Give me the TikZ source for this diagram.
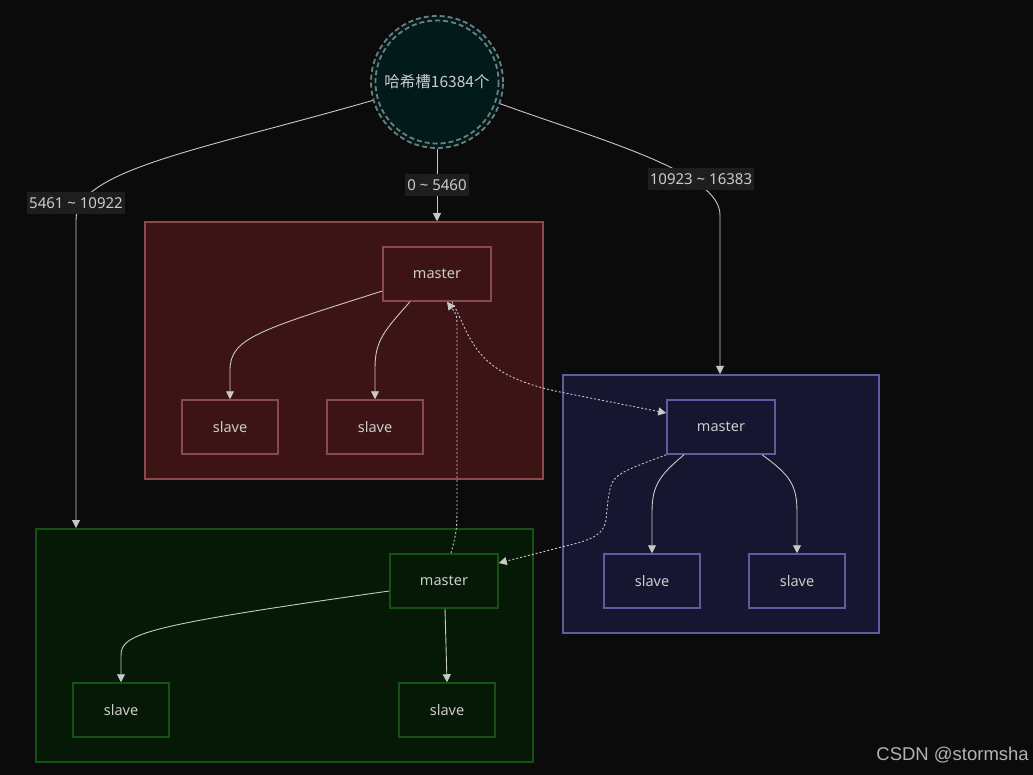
\documentclass[tikz,border=0pt]{standalone}
\usepackage{fontspec}
\setmainfont{Noto Sans}
\newfontfamily\cjk{Noto Sans CJK SC}
\newfontfamily\wmfont{Liberation Sans}
\usetikzlibrary{arrows.meta}
\definecolor{bg}{HTML}{0B0B0B}
\definecolor{txt}{HTML}{CCCCCC}
\definecolor{edgec}{HTML}{C8C8C8}
\definecolor{lblbg}{HTML}{1E1E1E}
\definecolor{redfill}{HTML}{3C1416}
\definecolor{redline}{HTML}{8A4A4A}
\definecolor{purfill}{HTML}{161630}
\definecolor{purline}{HTML}{5C5C9E}
\definecolor{grnfill}{HTML}{061806}
\definecolor{grnline}{HTML}{145214}
\definecolor{hashfill}{HTML}{031A1A}
\definecolor{hashline}{HTML}{6F7F7F}
\definecolor{wmcol}{HTML}{B3B3B3}
\tikzset{
  cluster/.style={draw, line width=1.5pt, inner sep=0pt},
  box/.style={draw, line width=1.5pt, minimum height=54pt, text=txt, font=\fontsize{14.5}{16}\selectfont},
  mbox/.style={box, minimum width=108pt},
  sbox/.style={box, minimum width=96pt},
  edge/.style={draw=edgec, line width=0.9pt, -{Triangle[length=8pt,width=8pt]}},
  dotedge/.style={edge, dash pattern=on 2pt off 2pt},
  lbl/.style={fill=lblbg, text=txt, inner xsep=2pt, inner ysep=5pt, font=\fontsize{15}{17}\selectfont},
}
\begin{document}
\begin{tikzpicture}[x=1pt,y=-1pt]
\fill[bg] (0,0) rectangle (1033,775);
\useasboundingbox (0,0) rectangle (1033,775);

% clusters
\node[cluster, draw=redline, fill=redfill, minimum width=398pt, minimum height=257pt] (red) at (344,350.5) {};
\node[cluster, draw=purline, fill=purfill, minimum width=316pt, minimum height=258pt] (pur) at (721,504) {};
\node[cluster, draw=grnline, fill=grnfill, minimum width=497pt, minimum height=233pt] (grn) at (284.5,645.5) {};

% hash circle
\node[circle, draw=hashline, fill=hashfill, dash pattern=on 5pt off 3pt, line width=1.8pt, minimum size=132pt, inner sep=0pt] (hash) at (437,82) {};
\draw[hashline, dash pattern=on 5pt off 3pt, line width=1.8pt] (hash.center) circle (61.5);
\node[text=txt, font=\cjk\fontsize{15.5}{17}\selectfont] (hashtxt) at (hash.center) {哈希槽16384个};

% nodes
\node[mbox, draw=redline, fill=redfill] (rm) at (437,274) {master};
\node[sbox, draw=redline, fill=redfill] (rs1) at (230,427) {slave};
\node[sbox, draw=redline, fill=redfill] (rs2) at (375,427) {slave};
\node[mbox, draw=purline, fill=purfill] (pm) at (721,427) {master};
\node[sbox, draw=purline, fill=purfill] (ps1) at (652,581) {slave};
\node[sbox, draw=purline, fill=purfill] (ps2) at (797,581) {slave};
\node[mbox, draw=grnline, fill=grnfill] (gm) at (444,581) {master};
\node[sbox, draw=grnline, fill=grnfill] (gs1) at (121,710) {slave};
\node[sbox, draw=grnline, fill=grnfill] (gs2) at (447,710) {slave};

% edges from hash
\draw[edge] (hash.south) -- (hash.south |- red.north);
\draw[edge] (hash.196) .. controls (200,150) and (76,170) .. (76,220) -- (76,528) coordinate (gtop);
\draw[edge] (hash.-19) .. controls (600,140) and (720,172) .. (720,215) -- (720,374) coordinate (ptop);
\node[lbl] (l1) at (437,185) {0 \textasciitilde{} 5460};
\node[lbl] (l2) at (76,203) {5461 \textasciitilde{} 10922};
\node[lbl] (l3) at (701,179) {10923 \textasciitilde{} 16383};

% inner edges
\draw[edge] ([yshift=-17pt]rm.west) .. controls (260,330) and (230,338) .. (230,370) -- (rs1.north);
\draw[edge] ([xshift=-27pt]rm.south) .. controls (385,330) and (375,340) .. (375,368) -- (rs2.north);
\draw[edge] ([xshift=-37pt]pm.south) .. controls (660,475) and (652,485) .. (652,512) -- (ps1.north);
\draw[edge] ([xshift=41pt]pm.south) .. controls (790,475) and (797,485) .. (797,512) -- (ps2.north);
\draw[edge] ([yshift=-10pt]gm.west) .. controls (150,625) and (121,633) .. (121,655) -- (gs1.north);
\draw[edge] ([xshift=1pt]gm.south) -- (gs2.north);

% dotted edges
\draw[dotedge] ([xshift=15pt]rm.south) .. controls (472,338) and (472,374) .. (560,392) -- ([yshift=14pt]pm.west);
\draw[dotedge] (pm.south west) .. controls (612,475) .. (608,500) -- (606,520) .. controls (603,540) and (580,542) .. (550,550) -- ([yshift=18pt]gm.east);
\draw[dotedge] ([xshift=7pt]gm.north) .. controls (457,530) .. (457,500) -- (457,330) .. controls (457,315) .. ([xshift=10pt]rm.south);

% watermark
\node[anchor=east, text=wmcol, font=\wmfont\fontsize{18.5}{20}\selectfont, inner sep=0pt] (wm) at (1029,755) {CSDN @stormsha};
\end{tikzpicture}
\end{document}
